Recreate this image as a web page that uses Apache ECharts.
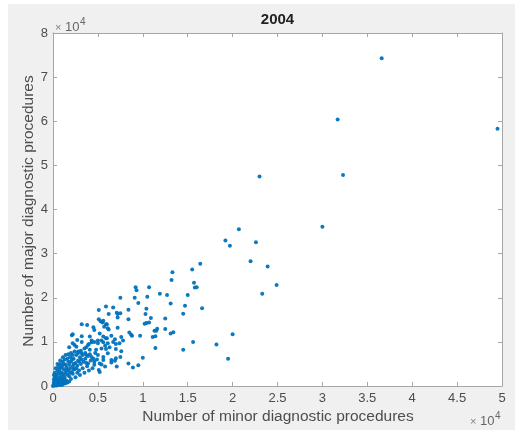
<!DOCTYPE html>
<html>
<head>
<meta charset="utf-8">
<script src="https://cdn.jsdelivr.net/npm/echarts@6/dist/echarts.min.js"></script>
<style>html,body{margin:0;padding:0;background:#fff}#c{width:520px;height:432px}</style>
</head>
<body>
<div id="c"></div>
<script>
const chartTitle = '2004';
const xAxisName = 'Number of minor diagnostic procedures';
const yAxisName = 'Number of major diagnostic procedures';
const exponentTimes = '×';
const exponentBase = '10';
const exponentPower = '4';
const xTicks = [0, 5000, 10000, 15000, 20000, 25000, 30000, 35000, 40000, 45000, 50000];
const yTicks = [0, 10000, 20000, 30000, 40000, 50000, 60000, 70000, 80000];

// [minor, major] pairs
const sparsePoints = [
  [36600,74300],[31700,60400],[49500,58300],[32300,47800],[23000,47500],[30000,36100],
  [20700,35500],[19200,33000],[19700,31800],[22600,32600],[22000,28300],[23900,27100],
  [24900,22900],[23300,20900],[20000,11700],[19500,6200],[16400,27700],[15500,26400],
  [15700,23400],[15800,22300],[16000,22400],[15000,20600],[14700,18200],[16600,17600],
  [13200,24000],[13300,25800],[9200,22400],[9300,21700],[10700,22400],[11900,20900],
  [12700,20600],[7500,20000],[9100,20000],[10500,20200],[9500,18800],[13100,18700],
  [8400,17300],[10400,17500],[10300,16300],[14500,16400],[7500,16500],[8400,15100],
  [10900,15400],[12500,15300],[10200,14100],[10400,14300],[10700,14400],[11600,13000],
  [11300,12500],[11500,12500],[12500,12900],[13400,12200],[13100,11900],[8500,12100],
  [8700,11600],[8800,11400],[7600,11100],[11100,11100],[11400,11300],[15600,10000],
  [18200,9400],[11400,8600],[14500,8200],[7600,7900],[7500,6600],[10000,6400],
  [8400,5100],[8900,4200],[9500,4700]
];
const midPoints = [
  [5900,18000],[6700,17800],[7100,16600],[7200,16300],[5100,17200],[7200,15500],
  [5100,15100],[5300,14700],[5600,14800],[6000,14000],[6200,12800],[4500,13300],
  [4600,12700],[3200,14000],[3800,13800],[2100,11500],[7200,13200],[9700,11400],
  [3200,11300],[4100,11200],[6500,11400],[4300,9900],[5000,10300],[5600,9900],
  [6000,10800],[7000,9500],[7000,8400],[5900,8400],[6300,8800],[6900,5700],
  [7100,4400],[6500,5300],[5400,4900],[5100,3600],[5600,5900],[4600,5500],
  [3500,8500],[3700,8800],[4000,9500],[3200,10000],[2700,10400],[2400,9300],
  [1800,8800],[6200,16300],[5500,14400],[5700,13400],[5900,14000],[6100,13100],
  [2200,11700],[5200,11900],[5600,11200],[5900,10800],[6900,10600],
  [4300,10300],[4600,10000],[5000,9700],[5400,10300],[3900,9300],[4100,8200],
  [4800,8200],[5400,8500],[5800,9100],[6100,9700],[6700,10000],[7400,9700],
  [7800,10300],[3200,7400],[3700,7000],[4300,6600],[5000,7000],[5600,6600],
  [6100,7400],[6500,5900],[7000,6300],[5200,5100],[5800,4400],[5200,3200],
  [4600,4800],[3900,5100],[2600,8900],[2800,7800],[2200,9700]
];
const densePoints = [
  [100,200],[200,500],[300,300],[400,800],[500,400],[600,1000],[200,1200],[300,1800],
  [500,1500],[700,600],[800,1200],[900,2000],[1000,800],[1100,1500],[1200,2500],[400,2200],
  [600,2800],[700,1800],[800,3200],[1000,3000],[1200,3800],[1300,2000],[1400,3000],[1500,4200],
  [1600,2600],[1700,3500],[1800,4800],[1900,4000],[2000,5500],[2100,3200],[2200,4500],[2300,6200],
  [2400,3800],[2500,5200],[2600,7000],[2700,4600],[2800,5800],[2900,3500],[3000,6500],[3100,5000],
  [200,3000],[300,4000],[500,3500],[600,4500],[800,5000],[900,4200],[1100,5500],[1300,6000],
  [1400,4800],[1600,6200],[1700,7200],[1900,6600],[2000,7500],[2200,7000],[2400,7800],[1500,1200],
  [1800,2200],[2000,1600],[2200,2800],[2500,2000],[2700,3000],[3000,2500],[3300,4000],[3400,5500],
  [3600,6200],[3500,3000],[3800,4500],[4000,3500],[4200,5800],[4400,4000],[100,800],[200,100],
  [100,1500],[400,100],[600,200],[800,300],[1000,200],[1200,500],[1400,600],[1600,800],
  [300,600],[500,900],[700,1100],[900,1400],[1100,1000],[1300,1400],[200,2000],[400,2600],
  [100,2500],[700,3800],[1000,4500],[1200,5000],[500,5000],[800,5800],[1100,6500],[1400,7000],
  [1700,5500],[2100,6000],[2300,5000],[2600,4000],[2800,7500],[3100,8000],[3300,7000],[3600,7500],
  [0,0],[100,400],[300,1000],[600,1600],[900,2500],[1500,3500],[1800,1000],[1900,3000],
  [2300,3800],[2900,5500],[3200,6000],[3700,5200],[3900,6800],[4100,7200],[4500,6200],[4700,7500],
  [4900,6000]
];

const allPoints = sparsePoints.concat(midPoints, densePoints);

const axisColor = '#a6a6a6';
const labelColor = '#4d4d4d';
const fontFam = '"Liberation Sans", Arial, sans-serif';
const fmt = v => String(Math.round(v / 1000) / 10);

function axisCommon(pos, ticks, showLabel, margin) {
  return {
    type: 'value', position: pos, min: ticks[0], max: ticks[ticks.length - 1], interval: ticks[1] - ticks[0],
    axisLine: {show: true, onZero: false, lineStyle: {color: axisColor, width: 1}},
    axisTick: {show: true, inside: true, length: 4, lineStyle: {color: axisColor}},
    axisLabel: showLabel ? {formatter: fmt, color: labelColor, fontSize: 13, fontFamily: fontFam, margin: margin} : {show: false},
    splitLine: {show: false}
  };
}

const chart = echarts.init(document.getElementById('c'), null, {renderer: 'canvas'});
chart.setOption({
  animation: false,
  backgroundColor: '#f0f0f0',
  grid: {left: 53, right: 18, top: 33, bottom: 46, show: true, backgroundColor: '#ffffff', borderWidth: 0},
  xAxis: [axisCommon('bottom', xTicks, true, 6), axisCommon('top', xTicks, false, 0)],
  yAxis: [axisCommon('left', yTicks, true, 5), axisCommon('right', yTicks, false, 0)],
  series: [{
    type: 'scatter', xAxisIndex: 0, yAxisIndex: 0,
    data: allPoints, symbol: 'circle', symbolSize: 4,
    itemStyle: {color: '#0072bd', opacity: 0.95},
    emphasis: {disabled: true}, silent: true
  }],
  graphic: [
    {type: 'rect', shape: {x: 0, y: 0, width: 520, height: 4}, style: {fill: '#ffffff'}, silent: true},
    {type: 'rect', shape: {x: 0, y: 0, width: 8, height: 432}, style: {fill: '#ffffff'}, silent: true},
    {type: 'rect', shape: {x: 515, y: 0, width: 5, height: 432}, style: {fill: '#ffffff'}, silent: true},
    {type: 'rect', shape: {x: 0, y: 430, width: 520, height: 2}, style: {fill: '#ffffff'}, silent: true},
    {type: 'text', x: 277.5, y: 20, style: {text: chartTitle, fontSize: 15, fontWeight: 'bold', fill: '#222', fontFamily: fontFam, textAlign: 'center', textVerticalAlign: 'middle'}},
    {type: 'text', x: 278, y: 417, style: {text: xAxisName, fontSize: 15.5, fill: labelColor, fontFamily: fontFam, textAlign: 'center', textVerticalAlign: 'middle'}},
    {type: 'text', x: 29, y: 211, rotation: Math.PI / 2, style: {text: yAxisName, fontSize: 15.5, fill: labelColor, fontFamily: fontFam, textAlign: 'center', textVerticalAlign: 'middle'}},
    {type: 'text', x: 55, y: 28, style: {text: exponentTimes, fontSize: 11, fill: '#808080', fontFamily: fontFam, textAlign: 'left', textVerticalAlign: 'middle'}},
    {type: 'text', x: 65, y: 27, style: {text: exponentBase, fontSize: 13, fill: '#666', fontFamily: fontFam, textAlign: 'left', textVerticalAlign: 'middle'}},
    {type: 'text', x: 80, y: 22, style: {text: exponentPower, fontSize: 10, fill: '#666', fontFamily: fontFam, textAlign: 'left', textVerticalAlign: 'middle'}},
    {type: 'text', x: 470, y: 422, style: {text: exponentTimes, fontSize: 11, fill: '#808080', fontFamily: fontFam, textAlign: 'left', textVerticalAlign: 'middle'}},
    {type: 'text', x: 480, y: 421, style: {text: exponentBase, fontSize: 13, fill: '#666', fontFamily: fontFam, textAlign: 'left', textVerticalAlign: 'middle'}},
    {type: 'text', x: 495, y: 416, style: {text: exponentPower, fontSize: 10, fill: '#666', fontFamily: fontFam, textAlign: 'left', textVerticalAlign: 'middle'}}
  ]
});
</script>
</body>
</html>
